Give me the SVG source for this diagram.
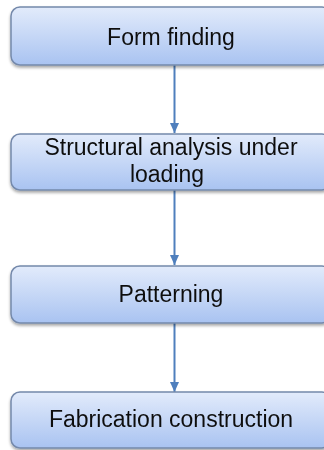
<svg xmlns="http://www.w3.org/2000/svg" width="324" height="450" viewBox="0 0 324 450">
<style>
.box{fill:url(#g);stroke:#7489ab;stroke-width:1.5}
.t{font-family:"Liberation Sans",Arial,sans-serif;font-size:23px;fill:#111;text-anchor:middle}
.c{stroke:#4f7fbd;stroke-width:2;fill:none;marker-end:url(#a)}
</style>
<defs>
<linearGradient id="g" x1="0" y1="0" x2="0" y2="1">
<stop offset="0" stop-color="#e2ebfb"/>
<stop offset="1" stop-color="#a9c3f1"/>
</linearGradient>
<filter id="s" x="-10%" y="-20%" width="120%" height="150%">
<feGaussianBlur in="SourceAlpha" stdDeviation="1.5"/>
<feOffset dx="0" dy="2" result="b"/>
<feComponentTransfer><feFuncA type="linear" slope="0.35"/></feComponentTransfer>
<feMerge><feMergeNode/><feMergeNode in="SourceGraphic"/></feMerge>
</filter>
<marker id="a" markerWidth="10" markerHeight="9" refX="10" refY="4.5" orient="auto" markerUnits="userSpaceOnUse">
<path d="M0,0 L10,4.5 L0,9 Z" fill="#4f7fbd"/>
</marker>
</defs>
<g id="connectors">
<line class="c" x1="174.5" y1="65" x2="174.5" y2="133"/>
<line class="c" x1="174.5" y1="190" x2="174.5" y2="265"/>
<line class="c" x1="174.5" y1="323" x2="174.5" y2="392"/>
</g>
<g id="n1" filter="url(#s)">
<rect class="box" x="11" y="7" width="320" height="58" rx="9"/>
<text class="t" x="171" y="45">Form finding</text>
</g>
<g id="n2" filter="url(#s)">
<rect class="box" x="11" y="134" width="320" height="56" rx="9"/>
<text class="t" x="171" y="155">Structural analysis under</text>
<text class="t" x="167" y="182">loading</text>
</g>
<g id="n3" filter="url(#s)">
<rect class="box" x="11" y="266" width="320" height="57" rx="9"/>
<text class="t" x="171" y="302">Patterning</text>
</g>
<g id="n4" filter="url(#s)">
<rect class="box" x="11" y="392" width="320" height="56" rx="9"/>
<text class="t" x="171" y="427">Fabrication construction</text>
</g>
</svg>
